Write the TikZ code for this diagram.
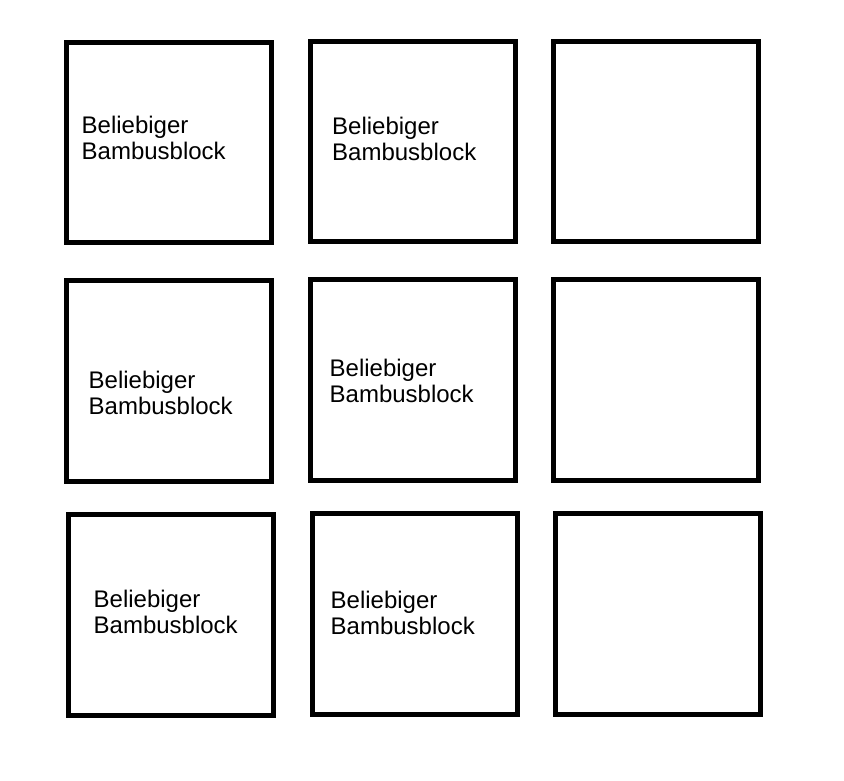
\documentclass[tikz,border=0pt]{standalone}
\usepackage{fontspec}
\setmainfont{Liberation Sans}
\usepackage{tikz}

\begin{document}
\begin{tikzpicture}[
  x=1pt, y=-1pt,
  bamboo/.style={rectangle, draw, line width=5pt, line join=miter, inner sep=0pt,
    minimum width=205pt, minimum height=200.5pt},
  blocktext/.style={anchor=base west, align=left, inner sep=0pt,
    font=\fontsize{24}{26.5}\selectfont},
]
\useasboundingbox (0,0) rectangle (844,780);
\node[bamboo] (b11) at (169,142.5) {};
\node[bamboo] (b12) at (413,141.5) {};
\node[bamboo] (b13) at (656,141.5) {};
\node[bamboo] (b21) at (169,381) {};
\node[bamboo] (b22) at (413,380) {};
\node[bamboo] (b23) at (656,380) {};
\node[bamboo] (b31) at (171,615) {};
\node[bamboo] (b32) at (415,614) {};
\node[bamboo] (b33) at (658,614) {};
\node[blocktext] (t11) at (81.5,159.5) {Beliebiger\\Bambusblock};
\node[blocktext] (t12) at (332,160.5) {Beliebiger\\Bambusblock};
\node[blocktext] (t21) at (88.5,414.5) {Beliebiger\\Bambusblock};
\node[blocktext] (t22) at (329.5,402.5) {Beliebiger\\Bambusblock};
\node[blocktext] (t31) at (93.5,633.5) {Beliebiger\\Bambusblock};
\node[blocktext] (t32) at (330.5,634.5) {Beliebiger\\Bambusblock};
\end{tikzpicture}
\end{document}
